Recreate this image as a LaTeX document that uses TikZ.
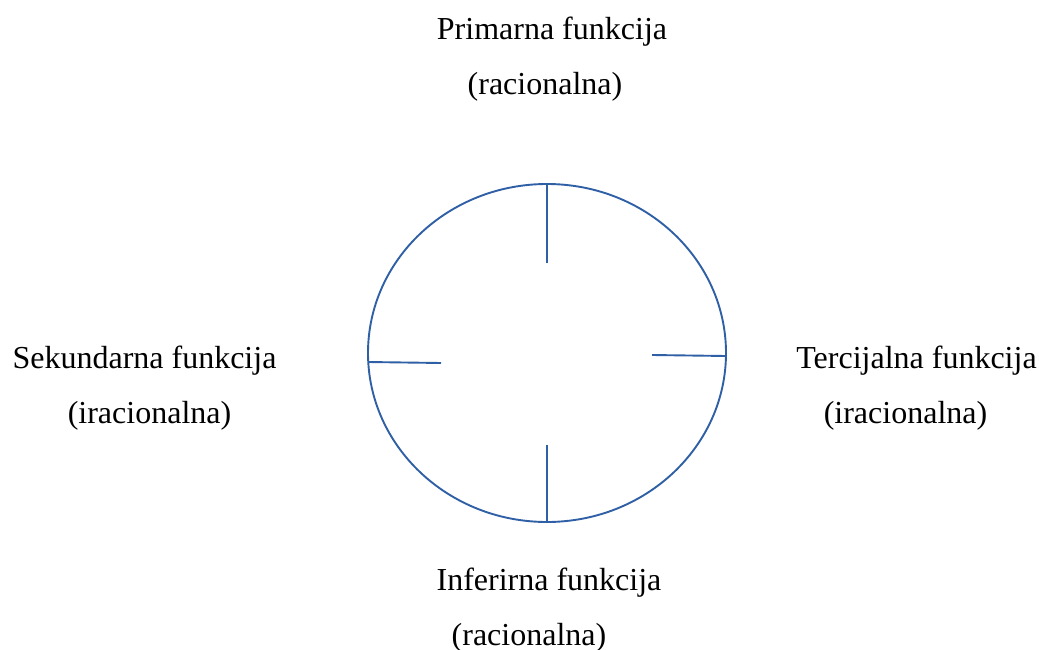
\documentclass[tikz,border=0pt]{standalone}
\usepackage{fontspec}
\setmainfont{Liberation Serif}
\definecolor{ringblue}{RGB}{47,95,165}
\tikzset{
  label/.style={anchor=base,inner sep=0pt,font=\fontsize{32}{38}\selectfont},
  ring/.style={draw=ringblue,line width=1.9pt}
}
\begin{document}
\begin{tikzpicture}[x=1pt,y=-1pt]
            \useasboundingbox (0,0) rectangle (1039,650);
            \draw[ring] (547,353) ellipse [x radius=179,y radius=169];
            \coordinate (top) at (547,184);
            \coordinate (topin) at (547,263);
            \coordinate (bot) at (547,522);
            \coordinate (botin) at (547,445);
            \coordinate (lft) at (368,362);
            \coordinate (lftin) at (441,363);
            \coordinate (rgt) at (726,356);
            \coordinate (rgtin) at (652,355);
            \draw[ring] (top)--(topin);
            \draw[ring] (bot)--(botin);
            \draw[ring] (lft)--(lftin);
            \draw[ring] (rgt)--(rgtin);
            \node[label] (prim) at (552,40) {Primarna funkcija};
            \node[label] (primr) at (545,95) {(racionalna)};
            \node[label] (sek) at (144.5,368) {Sekundarna funkcija};
            \node[label] (sekr) at (149.5,423) {(iracionalna)};
            \node[label] (ter) at (916.5,368) {Tercijalna funkcija};
            \node[label] (terr) at (905.5,423) {(iracionalna)};
            \node[label] (inf) at (549,590) {Inferirna funkcija};
            \node[label] (infr) at (529,645) {(racionalna)};
        \end{tikzpicture}
\end{document}
